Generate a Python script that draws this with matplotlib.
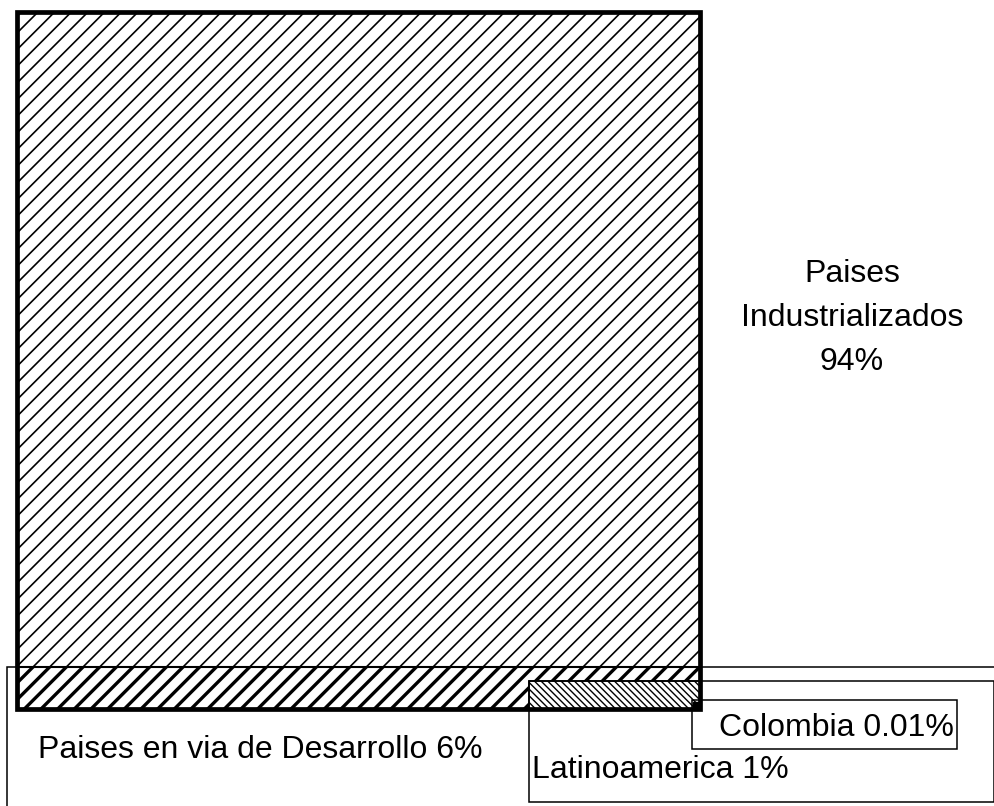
import matplotlib
matplotlib.use("Agg")
import matplotlib.pyplot as plt
from matplotlib.patches import Rectangle

plt.rcParams['font.family'] = ['Liberation Sans', 'DejaVu Sans']

# datos (participacion en %)
regiones = ["Paises\nIndustrializados", "Paises en via de Desarrollo", "Latinoamerica", "Colombia"]
porcentajes = [94, 6, 1, 0.01]
ancho_latam = 0.25  # fraccion del lado del cuadro que ocupa Latinoamerica


def rayado(p, lw):
    # grosor del rayado (matplotlib >= 3.10)
    try:
        p.set_hatch_linewidth(lw)
    except AttributeError:
        pass
    return p


fig = plt.figure(figsize=(9.94, 8.06), dpi=100)
ax = fig.add_axes([0, 0, 1, 1])
ax.set_xlim(-17 / 683, 977 / 683)
ax.set_ylim(-97 / 697, 709 / 697)
ax.axis("off")

# cuadro total = 100%
total = Rectangle((0, 0), 1, 1, facecolor="white", edgecolor="black",
                  hatch="//", linewidth=0.6)
ax.add_patch(rayado(total, 1.2))

# franja paises en desarrollo
h_dev = porcentajes[1] / 100
dev = Rectangle((0, 0), 1, h_dev, facecolor="white", edgecolor="black",
                hatch="//", linewidth=1.5)
ax.add_patch(rayado(dev, 2.4))

# latinoamerica
h_lat = porcentajes[2] / 100 / ancho_latam
lat = Rectangle((1 - ancho_latam, 0), ancho_latam, h_lat, facecolor="white",
                edgecolor="black", hatch="\\\\\\\\\\", linewidth=1.2)
ax.add_patch(rayado(lat, 1.0))

# colombia
lado_col = (porcentajes[3] / 100) ** 0.5
ax.add_patch(Rectangle((1 - lado_col, 0), lado_col, lado_col, facecolor="black",
                       edgecolor="black", linewidth=1))

# borde grueso del cuadro
ax.add_patch(Rectangle((0, 0), 1, 1, fill=False, edgecolor="black", linewidth=3.4))

# cajas de etiquetas
caja = dict(fill=False, edgecolor="black", linewidth=1.1, clip_on=False)
ax.add_patch(Rectangle((-0.0146, -0.3), 2, h_dev + 0.3, **caja))
ax.add_patch(Rectangle((1 - ancho_latam, -0.133), 0.43 + ancho_latam, h_lat + 0.133, **caja))
ax.add_patch(Rectangle((0.989, -0.057), 0.387, 0.07, **caja))

fs = 23
ax.text(1.2225, 0.561, f"{regiones[0]}\n{porcentajes[0]}%", ha="center", va="center",
        fontsize=fs, linespacing=1.62)
ax.text(0.0307, -0.059, f"{regiones[1]} {porcentajes[1]}%", ha="left", va="center",
        fontsize=fs)
ax.text(0.754, -0.0875, f"{regiones[2]} {porcentajes[2]}%", ha="left", va="center",
        fontsize=fs)
ax.text(1.372, -0.027, f"{regiones[3]} {porcentajes[3]}%", ha="right", va="center",
        fontsize=fs)

fig.savefig("out.png", dpi=100)
